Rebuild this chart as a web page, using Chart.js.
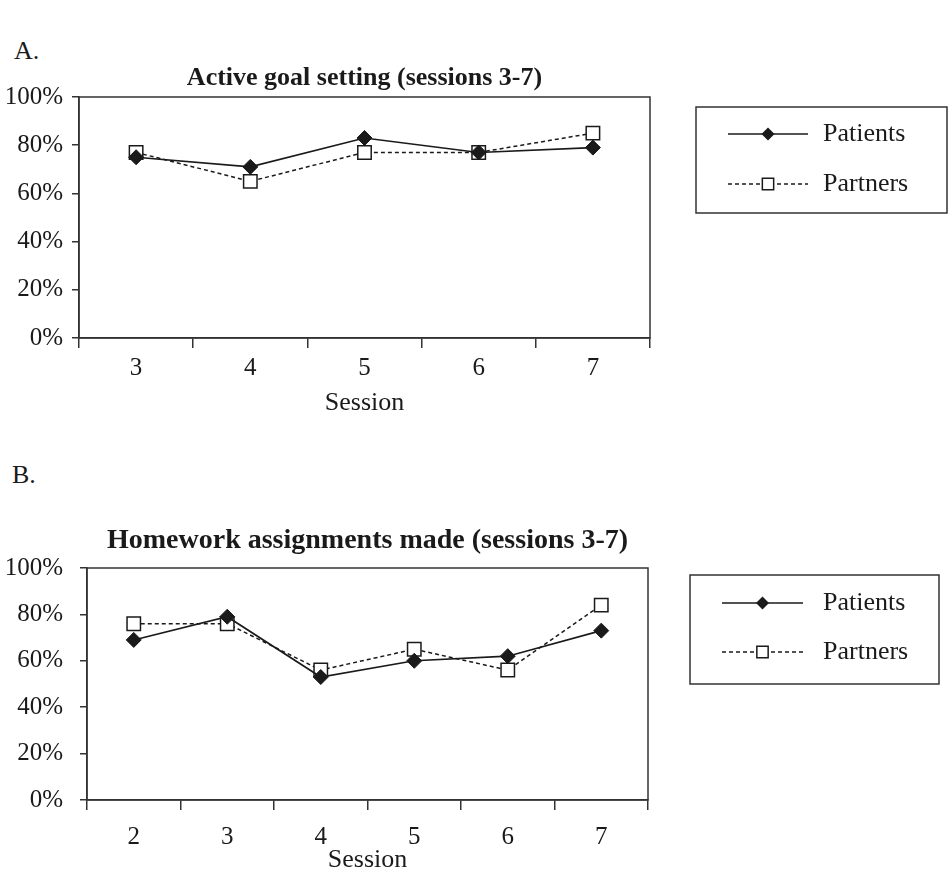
<!DOCTYPE html>
<html>
<head>
<meta charset="utf-8">
<script src="https://cdn.jsdelivr.net/npm/chart.js@4.4.1/dist/chart.umd.min.js"></script>
<style>
  html, body { margin: 0; padding: 0; background: #fff; }
  body { width: 949px; height: 884px; position: relative; overflow: hidden; }
  canvas { position: absolute; left: 0; }
  .panel { position: absolute; font-family: "Liberation Serif", "Times New Roman", serif; font-size: 26px; color: #1a1a1a; line-height: 1; }
</style>
</head>
<body>
<div class="panel" style="left:14px; top:38px;">A.</div>
<div class="panel" style="left:12px; top:462px;">B.</div>
<canvas id="chartA" width="949" height="430" style="top:0px;"></canvas>
<canvas id="chartB" width="949" height="444" style="top:440px;"></canvas>
<script>
// ---- data ----
const sessionsA = ['3', '4', '5', '6', '7'];
const patientsA = [75, 71, 83, 77, 79];
const partnersA = [77, 65, 77, 77, 85];

const sessionsB = ['2', '3', '4', '5', '6', '7'];
const patientsB = [69, 79, 53, 60, 62, 73];
const partnersB = [76, 76, 56, 65, 56, 84];

const titleA = 'Active goal setting (sessions 3-7)';
const titleB = 'Homework assignments made (sessions 3-7)';
const xTitle = 'Session';
const seriesNames = ['Patients', 'Partners'];
const yTicks = [0, 20, 40, 60, 80, 100];

// ---- styling ----
const FONT = '"Liberation Serif", "Times New Roman", serif';
const INK = '#1a1a1a';
const AXIS = '#333333';
Chart.defaults.font.family = FONT;
Chart.defaults.color = INK;

function drawMarker(ctx, style, x, y, r) {
  ctx.beginPath();
  if (style === 'rectRot') {
    ctx.moveTo(x, y - r); ctx.lineTo(x + r, y); ctx.lineTo(x, y + r); ctx.lineTo(x - r, y); ctx.closePath();
    ctx.fillStyle = INK; ctx.fill();
  } else {
    const s = r * Math.SQRT1_2;
    ctx.rect(x - s, y - s, 2 * s, 2 * s);
    ctx.fillStyle = '#fff'; ctx.fill();
    ctx.lineWidth = 1.5; ctx.strokeStyle = INK; ctx.stroke();
  }
}

const decorPlugin = {
  id: 'decor',
  beforeDatasetsDraw(chart) {
    const { ctx, chartArea: a } = chart;
    ctx.save();
    ctx.strokeStyle = AXIS; ctx.lineWidth = 1.5;
    ctx.strokeRect(a.left, a.top, a.right - a.left, a.bottom - a.top);
    ctx.restore();
  },
  afterDraw(chart, args, opts) {
    const { ctx, chartArea: a } = chart;
    ctx.save();
    ctx.fillStyle = INK;
    ctx.font = 'bold ' + opts.titleSize + 'px ' + FONT;
    ctx.textAlign = 'center'; ctx.textBaseline = 'middle';
    ctx.fillText(opts.title, (a.left + a.right) / 2, opts.titleY);
    const L = opts.legend;
    ctx.strokeStyle = AXIS; ctx.lineWidth = 1.5;
    ctx.strokeRect(L.x, L.y, L.w, L.h);
    chart.data.datasets.forEach((ds, i) => {
      const y = L.rows[i];
      ctx.beginPath();
      ctx.setLineDash(ds.borderDash || []);
      ctx.lineWidth = ds.borderWidth; ctx.strokeStyle = ds.borderColor;
      ctx.moveTo(L.x0, y); ctx.lineTo(L.x1, y); ctx.stroke();
      ctx.setLineDash([]);
      drawMarker(ctx, ds.pointStyle, (L.x0 + L.x1) / 2, y, ds.pointStyle === 'rectRot' ? 6.5 : 8);
      ctx.fillStyle = INK;
      ctx.font = '26px ' + FONT;
      ctx.textAlign = 'left'; ctx.textBaseline = 'middle';
      ctx.fillText(ds.label, L.tx, y);
    });
    ctx.restore();
  }
};

function makeChart(id, labels, pat, par, cfg) {
  return new Chart(document.getElementById(id), {
    type: 'line',
    data: {
      labels: labels,
      datasets: [
        { label: seriesNames[0], data: pat, borderColor: INK, borderWidth: 1.6,
          pointStyle: 'rectRot', pointRadius: 7.5, pointBackgroundColor: INK, pointBorderColor: INK,
          pointBorderWidth: 1, tension: 0, clip: false },
        { label: seriesNames[1], data: par, borderColor: INK, borderWidth: 1.5, borderDash: [4, 3],
          pointStyle: 'rect', pointRadius: 9.5, pointBackgroundColor: '#fff', pointBorderColor: INK,
          pointBorderWidth: 1.5, tension: 0, clip: false }
      ]
    },
    options: {
      responsive: false, animation: false, devicePixelRatio: 1,
      layout: { padding: cfg.padding },
      plugins: {
        legend: { display: false }, title: { display: false }, tooltip: { enabled: false },
        decor: { title: cfg.title, titleY: cfg.titleY, titleSize: cfg.titleSize, legend: cfg.legend }
      },
      scales: {
        x: {
          type: 'category', offset: true,
          grid: { offset: true, drawOnChartArea: false, drawTicks: true, tickLength: 10, color: AXIS, lineWidth: 1.5 },
          border: { display: true, color: AXIS, width: 1.5 },
          ticks: { padding: cfg.xPad, font: { size: 25 }, color: INK, maxRotation: 0 },
          title: { display: true, text: xTitle, font: { size: 26 }, color: INK, padding: { top: 0, bottom: 0 } },
          afterFit(s) { s.height = cfg.xHeight; s.paddingLeft = 0; s.paddingRight = 0; }
        },
        y: {
          min: 0, max: 100,
          afterBuildTicks(s) { s.ticks = yTicks.map(v => ({ value: v })); },
          grid: { drawOnChartArea: false, drawTicks: true, tickLength: 7, color: AXIS, lineWidth: 1.5 },
          border: { display: true, color: AXIS, width: 1.5 },
          ticks: { padding: cfg.yPad, font: { size: 25 }, color: INK, callback: v => v + '%' },
          afterFit(s) { s.width = cfg.yWidth; s.paddingTop = 0; s.paddingBottom = 0; }
        }
      }
    },
    plugins: [decorPlugin]
  });
}

makeChart('chartA', sessionsA, patientsA, partnersA, {
  padding: { top: 97, left: 0, right: 299, bottom: 11 },
  xHeight: 81, xPad: 5, yWidth: 79, yPad: 9,
  title: titleA, titleY: 78, titleSize: 26,
  legend: { x: 696, y: 107, w: 251, h: 106, rows: [134, 184], x0: 728, x1: 808, tx: 823 }
});

makeChart('chartB', sessionsB, patientsB, partnersB, {
  padding: { top: 128, left: 0, right: 301, bottom: 8 },
  xHeight: 76, xPad: 12, yWidth: 87, yPad: 17,
  title: titleB, titleY: 101, titleSize: 28,
  legend: { x: 690, y: 135, w: 249, h: 109, rows: [163, 212], x0: 722, x1: 803, tx: 823 }
});
</script>
</body>
</html>
